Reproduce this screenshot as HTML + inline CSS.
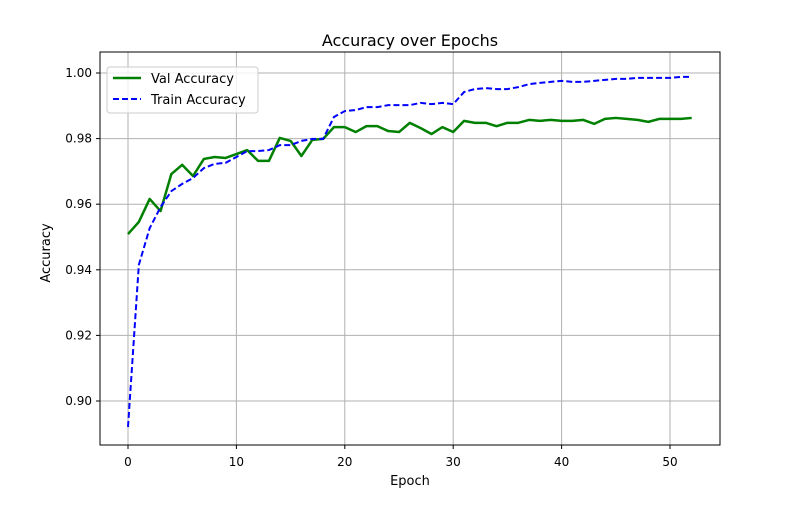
<!DOCTYPE html>
<html><head><meta charset="utf-8"><style>
body{margin:0;background:#fff;font-family:"Liberation Sans","DejaVu Sans",sans-serif}
svg text{font-family:"DejaVu Sans","Liberation Sans",sans-serif}
</style></head><body>
<svg id="chart" width="800" height="500" xmlns="http://www.w3.org/2000/svg">
<rect width="800" height="500" fill="#fff"/>
<g id="grid"></g>
<g id="series"></g>
<rect x="100" y="52" width="620" height="393" fill="none" stroke="#000" stroke-width="1"/>
<g id="ticks"></g>
<text x="410" y="52" dy="-6" text-anchor="middle" font-size="16">Accuracy over Epochs</text>
<text x="410" y="485" text-anchor="middle" font-size="13">Epoch</text>
<text transform="translate(50,253) rotate(-90)" text-anchor="middle" font-size="13">Accuracy</text>
<g>
<rect x="107" y="67" width="151" height="46" rx="3" fill="#fff" fill-opacity="0.8" stroke="#ccc"/>
<line x1="113" y1="78" x2="141" y2="78" stroke="green" stroke-width="2.5"/>
<text x="151" y="83" font-size="13">Val Accuracy</text>
<line x1="113" y1="99" x2="141" y2="99" stroke="blue" stroke-width="2" stroke-dasharray="6,3"/>
<text x="151" y="104" font-size="13">Train Accuracy</text>
</g>
</svg>
<script>
const valAcc=[0.9509,0.9546,0.9616,0.9579,0.9692,0.9720,0.9686,0.9738,0.9744,0.9741,0.9753,0.9765,0.9732,0.9732,0.9802,0.9793,0.9747,0.9796,0.9799,0.9835,0.9835,0.9820,0.9838,0.9838,0.9823,0.9820,0.9848,0.9832,0.9814,0.9835,0.9820,0.9854,0.9848,0.9848,0.9838,0.9848,0.9848,0.9857,0.9854,0.9857,0.9854,0.9854,0.9857,0.9845,0.9860,0.9863,0.9860,0.9857,0.9851,0.9860,0.9860,0.9860,0.9863];
const trainAcc=[0.8921,0.9415,0.9527,0.9591,0.9640,0.9662,0.9680,0.9710,0.9723,0.9726,0.9744,0.9762,0.9762,0.9765,0.9780,0.9780,0.9793,0.9799,0.9799,0.9866,0.9884,0.9887,0.9896,0.9896,0.9902,0.9902,0.9902,0.9909,0.9905,0.9909,0.9905,0.9942,0.9951,0.9954,0.9951,0.9951,0.9957,0.9966,0.9970,0.9973,0.9976,0.9973,0.9973,0.9976,0.9979,0.9982,0.9982,0.9985,0.9985,0.9985,0.9985,0.9988,0.9988];
const xTicks=[0,10,20,30,40,50];
const yTicks=[0.90,0.92,0.94,0.96,0.98,1.00];
const NS="http://www.w3.org/2000/svg";
const xs=e=>128+e*10.84;
const ys=v=>401-(v-0.9)*3280;
const grid=document.getElementById('grid'),ticks=document.getElementById('ticks'),ser=document.getElementById('series');
function mk(tag,attrs,parent){const el=document.createElementNS(NS,tag);for(const k in attrs)el.setAttribute(k,attrs[k]);parent.appendChild(el);return el;}
xTicks.forEach(t=>{const x=xs(t);
const g=mk('line',{x1:x,x2:x,y1:52,y2:445,stroke:'#b0b0b0','stroke-width':1},grid);


mk('line',{x1:x,x2:x,y1:445,y2:449,stroke:'#000'},ticks);
const tx=mk('text',{x:x,y:466,'text-anchor':'middle','font-size':12},ticks);tx.textContent=t;

});
yTicks.forEach(t=>{const y=ys(t);
const g=mk('line',{x1:100,x2:720,y1:y,y2:y,stroke:'#b0b0b0','stroke-width':1},grid);


mk('line',{x1:96,x2:100,y1:y,y2:y,stroke:'#000'},ticks);
const tx=mk('text',{x:92,y:y+4,'text-anchor':'end','font-size':12},ticks);tx.textContent=t.toFixed(2);

});
const pv=mk('polyline',{points:valAcc.map((v,i)=>xs(i)+','+ys(v)).join(' '),fill:'none',stroke:'green','stroke-width':2.5,'stroke-linejoin':'round'},ser);


const pt=mk('polyline',{points:trainAcc.map((v,i)=>xs(i)+','+ys(v)).join(' '),fill:'none',stroke:'blue','stroke-width':2,'stroke-dasharray':'6,3'},ser);


</script>
</body></html>
